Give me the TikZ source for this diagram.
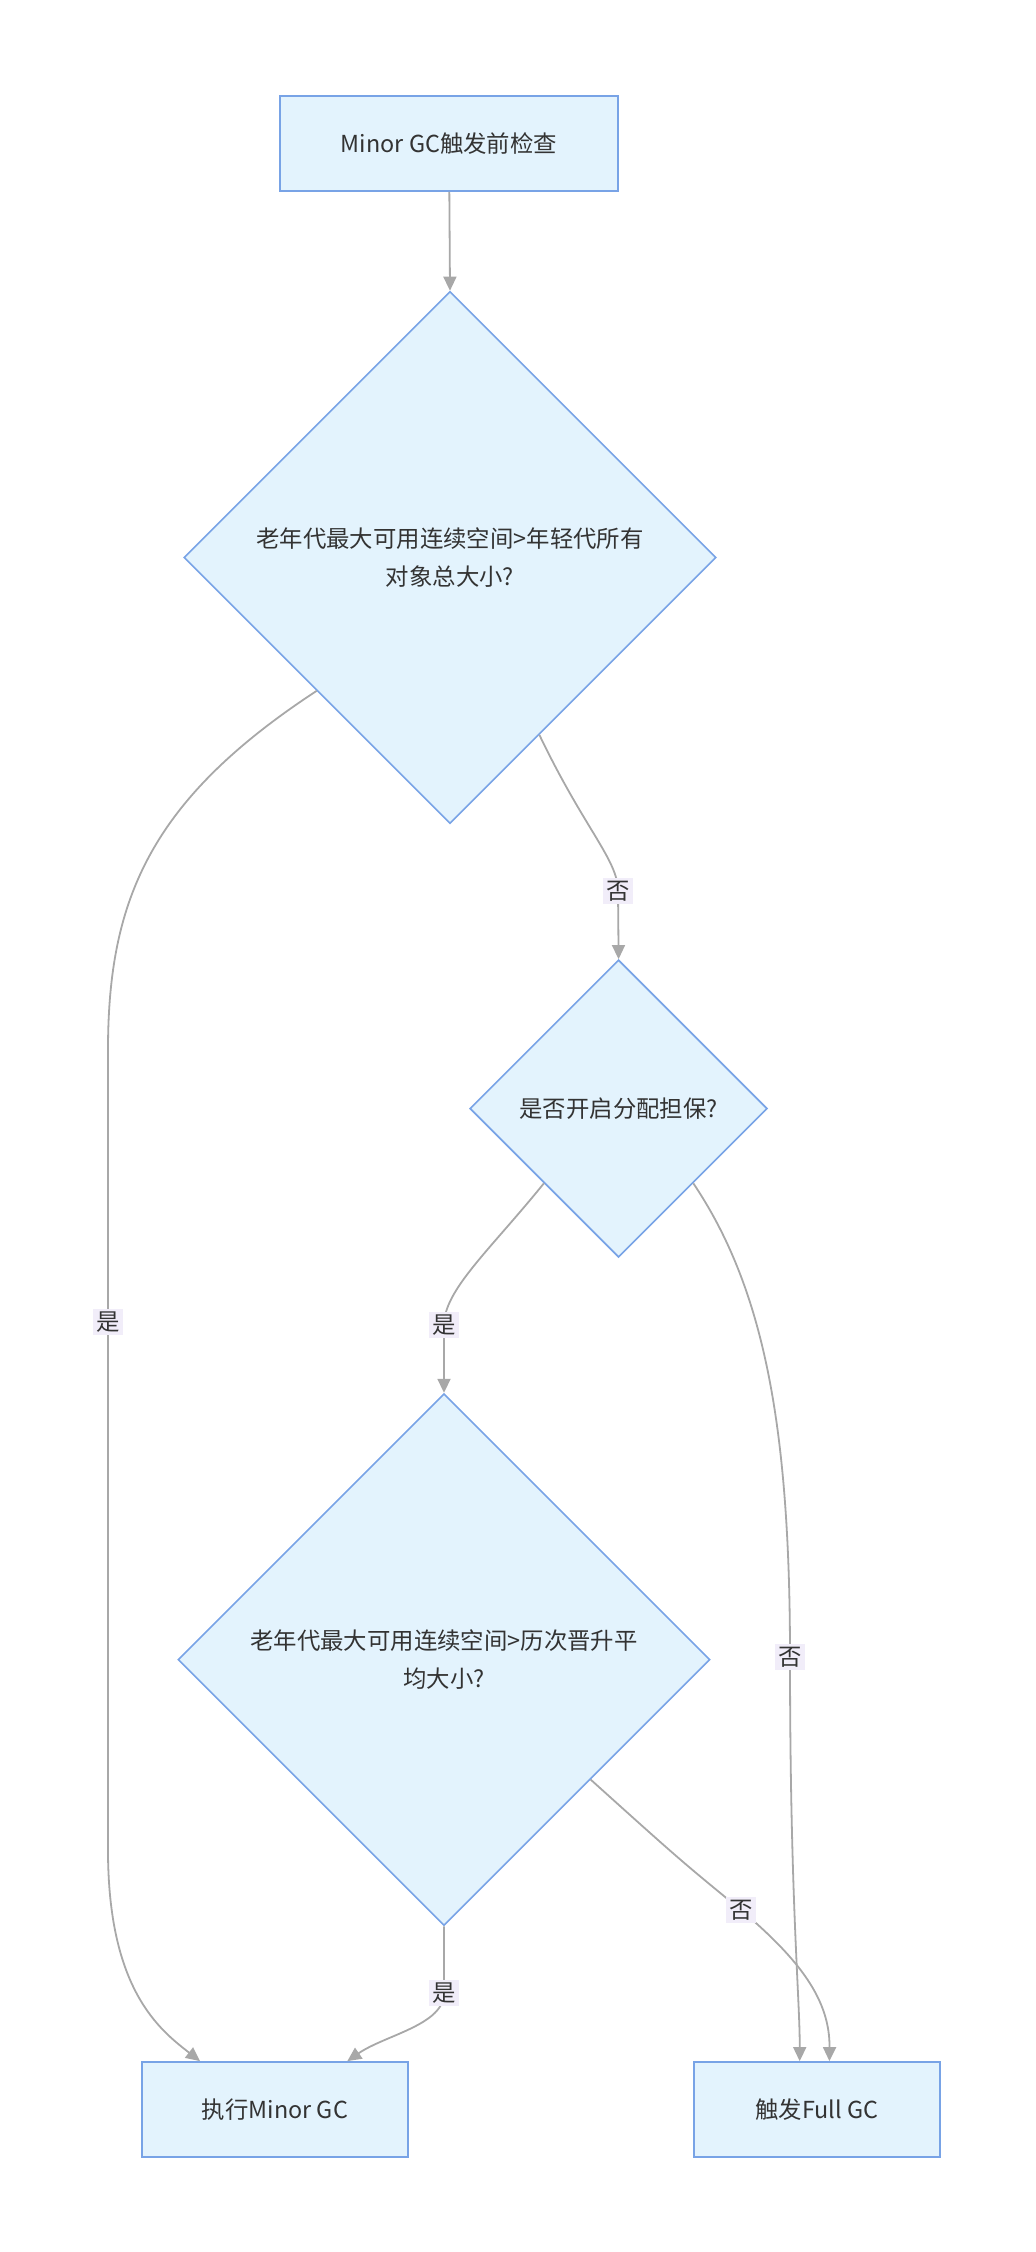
\documentclass[tikz,border=0pt]{standalone}
\usepackage{fontspec}
\setmainfont{Noto Sans CJK SC}
\usetikzlibrary{positioning, shapes.geometric, arrows.meta, calc}
\definecolor{boxfill}{HTML}{E3F3FD}
\definecolor{boxline}{HTML}{78A3E6}
\definecolor{edgegray}{HTML}{A8A8A8}
\definecolor{lblbg}{HTML}{F1EDF9}
\definecolor{txt}{HTML}{333333}

\begin{document}
\begin{tikzpicture}[x=0.5pt, y=-0.5pt, font=\fontsize{11.7pt}{18.75pt}\selectfont, text=txt,
  procbox/.style={rectangle, draw=boxline, line width=0.9pt, fill=boxfill, minimum height=47.5pt, align=center, inner sep=0pt},
  decide/.style={diamond, aspect=1, draw=boxline, line width=0.8pt, fill=boxfill, align=center, inner sep=0pt},
  flow/.style={draw=edgegray, line width=0.9pt, -{Triangle[length=7pt, width=6.5pt, fill=edgegray]}},
  lbl/.style={fill=lblbg, inner sep=1.5pt, text=txt}]
  \useasboundingbox (0,0) rectangle (1036,2252);

  % nodes
  \node[procbox, minimum width=169pt] (check) at (449,143.5) {Minor GC触发前检查};
  \node[decide, minimum width=266pt, minimum height=266pt] (oldfit) at (450,557.5) {老年代最大可用连续空间>年轻代所有\\对象总大小?};
  \node[decide, minimum width=148.7pt, minimum height=148.7pt] (guarantee) at (618.6,1108.6) {是否开启分配担保?};
  \node[decide, minimum width=266pt, minimum height=266pt] (avgfit) at (444,1659.6) {老年代最大可用连续空间>历次晋升平\\均大小?};
  \node[procbox, minimum width=133pt] (minorgc) at (275,2109.5) {执行Minor GC};
  \node[procbox, minimum width=123pt] (fullgc) at (817,2109.5) {触发Full GC};

  % edges
  \draw[flow] (check) -- (oldfit.north);
  \draw[flow] (oldfit.south west) .. controls (150,800) and (108,900) .. (108,1050)
    -- node[lbl, pos=0.34]{是} (108,1850)
    .. controls (108,1990) and (160,2030) .. ($(minorgc.north west)!0.22!(minorgc.north east)$);
  \draw[flow] ($(oldfit.south)!0.335!(oldfit.east)$) .. controls (585,830) and (618,860) .. (618,891) node[lbl]{否} -- (guarantee.north);
  \draw[flow] (guarantee.south west) .. controls (490,1250) and (444,1290) .. (444,1325) node[lbl]{是} -- (avgfit.north);
  \draw[flow] (guarantee.south east) .. controls (765,1290) and (790,1430) .. (790,1657) node[lbl]{否}
    .. controls (790,1900) and (800,2000) .. ($(fullgc.north west)!0.43!(fullgc.north east)$);
  \draw[flow] (avgfit.south) -- (444,1993) node[lbl]{是}
    .. controls (444,2025) and (385,2035) .. ($(minorgc.north west)!0.77!(minorgc.north east)$);
  \draw[flow] ($(avgfit.south)!0.55!(avgfit.east)$) .. controls (680,1860) .. (741,1910) node[lbl]{否}
    .. controls (800,1960) and (830,2000) .. ($(fullgc.north west)!0.55!(fullgc.north east)$);
\end{tikzpicture}
\end{document}
